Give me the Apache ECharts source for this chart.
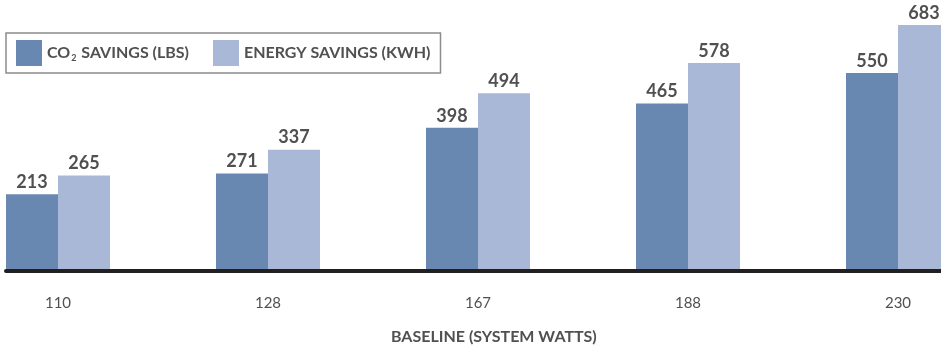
<!DOCTYPE html>
<html>
<head>
<meta charset="utf-8">
<script src="https://cdn.jsdelivr.net/npm/echarts@6/dist/echarts.min.js"></script>
<style>
  html, body { margin: 0; padding: 0; background: #ffffff; }
  #chart { width: 941px; height: 347px; }
</style>
</head>
<body>
<div id="chart"></div>
<script>
// Baseline system wattage for each group
const categories = ['110', '128', '167', '188', '230'];
// Series names (the "2" in CO2 is drawn as a subscript)
const co2Name = 'CO2 SAVINGS (LBS)';
const energyName = 'ENERGY SAVINGS (KWH)';
// Savings per baseline
const co2Savings = [213, 271, 398, 465, 550];
const energySavings = [265, 337, 494, 578, 683];
const axisTitle = 'BASELINE (SYSTEM WATTS)';

const FONT = 'Lato, "Open Sans", sans-serif';
const TEXT = '#505052';
const DARK = '#6888b1';
const LIGHT = '#a9b8d6';

const chart = echarts.init(document.getElementById('chart'), null, { renderer: 'canvas' });

const barLabel = {
  show: true,
  position: 'top',
  distance: 3,
  color: TEXT,
  fontFamily: FONT,
  fontWeight: 'bold',
  fontSize: 18
};

chart.setOption({
  animation: false,
  backgroundColor: '#ffffff',
  title: {
    text: axisTitle,
    left: 386,
    top: 324,
    textStyle: { color: TEXT, fontFamily: FONT, fontWeight: 'bold', fontSize: 16 }
  },
  legend: {
    left: 6,
    top: 33,
    padding: [7, 10, 7, 10],
    borderColor: '#8c8c8c',
    borderWidth: 1.5,
    itemWidth: 26,
    itemHeight: 26,
    itemGap: 24,
    icon: 'rect',
    data: [co2Name, energyName],
    formatter: function (name) {
      if (name.indexOf('CO2') === 0) {
        return '{a|CO}{s|2}{a|' + name.slice(3) + '}';
      }
      return '{a|' + name + '}';
    },
    textStyle: {
      rich: {
        a: { color: TEXT, fontFamily: FONT, fontWeight: 'bold', fontSize: 16 },
        s: { color: TEXT, fontFamily: FONT, fontWeight: 'bold', fontSize: 9, verticalAlign: 'bottom', padding: [10, 1, 0, 1] }
      }
    }
  },
  grid: [
    // category ticks sit at the plot edges, so the outer bars hang over them
    { left: 58, right: 43, top: 19, bottom: 76, containLabel: false },
    // baseline rule
    { left: 6, right: 0, top: 19, bottom: 76, containLabel: false }
  ],
  xAxis: [
    {
      type: 'category',
      gridIndex: 0,
      boundaryGap: false,
      data: categories,
      axisLine: { show: false },
      axisTick: { show: false },
      axisLabel: { color: TEXT, fontFamily: FONT, fontSize: 15, margin: 25 }
    },
    {
      type: 'category',
      gridIndex: 1,
      z: 5,
      data: [''],
      axisLine: { show: true, onZero: false, lineStyle: { color: '#231f20', width: 4 } },
      axisTick: { show: false },
      axisLabel: { show: false }
    }
  ],
  yAxis: [
    { type: 'value', gridIndex: 0, min: 0, max: 700, show: false },
    { type: 'value', gridIndex: 1, min: 0, max: 700, show: false }
  ],
  series: [
    {
      name: co2Name,
      type: 'bar',
      xAxisIndex: 0,
      yAxisIndex: 0,
      data: co2Savings,
      barWidth: 52,
      barGap: '0%',
      clip: false,
      itemStyle: { color: DARK },
      label: barLabel
    },
    {
      name: energyName,
      type: 'bar',
      xAxisIndex: 0,
      yAxisIndex: 0,
      data: energySavings,
      barWidth: 52,
      barGap: '0%',
      clip: false,
      itemStyle: { color: LIGHT },
      label: barLabel
    }
  ]
});
</script>
</body>
</html>
